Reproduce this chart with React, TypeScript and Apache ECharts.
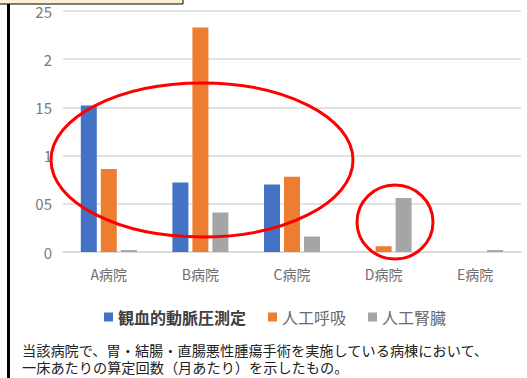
import React, { useEffect, useRef } from "react";
import * as echarts from "echarts";

const categories = ["A病院", "B病院", "C病院", "D病院", "E病院"];
const seriesNames = ["観血的動脈圧測定", "人工呼吸", "人工腎臓"];
const arterialPressure = [1.52, 0.72, 0.7, 0, 0];
const ventilation = [0.86, 2.33, 0.78, 0.06, 0];
const dialysis = [0.02, 0.41, 0.16, 0.56, 0.02];
const captionLines = [
  "当該病院で、胃・結腸・直腸悪性腫瘍手術を実施している病棟において、",
  "一床あたりの算定回数（月あたり）を示したもの。",
];

const FONT = '"Noto Sans CJK JP", "Noto Sans", sans-serif';
const CAPTION_FONT = '"Liberation Sans", "Noto Sans CJK JP", sans-serif';

export default function App() {
  const ref = useRef<HTMLDivElement>(null);
  useEffect(() => {
    if (!ref.current) return;
    const chart = echarts.init(ref.current, undefined, { renderer: "svg" });
    const colors = ["#4472C4", "#ED7D31", "#A5A5A5"];
    const values = [arterialPressure, ventilation, dialysis];
    chart.setOption({
      animation: false,
      textStyle: { fontFamily: FONT },
      grid: { left: 63, right: 6, top: 11, bottom: 126 },
      legend: {
        left: 99,
        top: 304,
        itemWidth: 9,
        itemHeight: 9,
        itemGap: 22,
        icon: "rect",
        data: [
          { name: seriesNames[0], textStyle: { fontWeight: "bold", color: "#404040", fontSize: 16 } },
          { name: seriesNames[1], textStyle: { color: "#6a6a6a", fontSize: 16 } },
          { name: seriesNames[2], textStyle: { color: "#6a6a6a", fontSize: 16 } },
        ],
        textStyle: { fontFamily: FONT, fontSize: 16 },
      },
      xAxis: {
        type: "category",
        data: categories,
        axisLine: { lineStyle: { color: "#d9d9d9", width: 1.5 } },
        axisTick: { show: false },
        axisLabel: { color: "#6d6d6d", fontSize: 14, margin: 15, fontFamily: FONT },
      },
      yAxis: {
        type: "value",
        min: 0,
        max: 2.5,
        interval: 0.5,
        axisLine: { show: false },
        axisTick: { show: false },
        splitLine: { lineStyle: { color: "#d9d9d9", width: 1.5 } },
        axisLabel: {
          color: "#7a7a7a",
          fontSize: 15,
          margin: 11,
          fontFamily: FONT,
          formatter: (v: number) => String(v).replace(".", ""),
        },
      },
      series: seriesNames.map((name, i) => ({
        name,
        type: "bar",
        data: values[i],
        itemStyle: { color: colors[i] },
        barWidth: 16,
        barGap: "25%",
      })),
      graphic: [
        {
          type: "rect",
          shape: { x: -1, y: -1, width: 184, height: 5 },
          style: { fill: "#fdefd0", stroke: "#000", lineWidth: 1 },
        },
        {
          type: "rect",
          shape: { x: 7, y: 4, width: 3, height: 374 },
          style: { fill: "#000" },
        },
        {
          type: "ellipse",
          shape: { cx: 202, cy: 160, rx: 151, ry: 77 },
          style: { fill: "none", stroke: "#ff0000", lineWidth: 3 },
          z: 100,
        },
        {
          type: "ellipse",
          shape: { cx: 395, cy: 222, rx: 38, ry: 37 },
          style: { fill: "none", stroke: "#ff0000", lineWidth: 3 },
          z: 100,
        },
        {
          type: "text",
          x: 22,
          y: 342,
          style: {
            text: captionLines.join("\n"),
            font: `14.2px ${CAPTION_FONT}`,
            lineHeight: 17,
            fill: "#222",
            verticalAlign: "top",
          },
        },
      ],
    });
    return () => chart.dispose();
  }, []);
  return (
    <div
      ref={ref}
      style={{ position: "fixed", left: 0, top: 0, width: 527, height: 378, background: "#fff" }}
    />
  );
}
